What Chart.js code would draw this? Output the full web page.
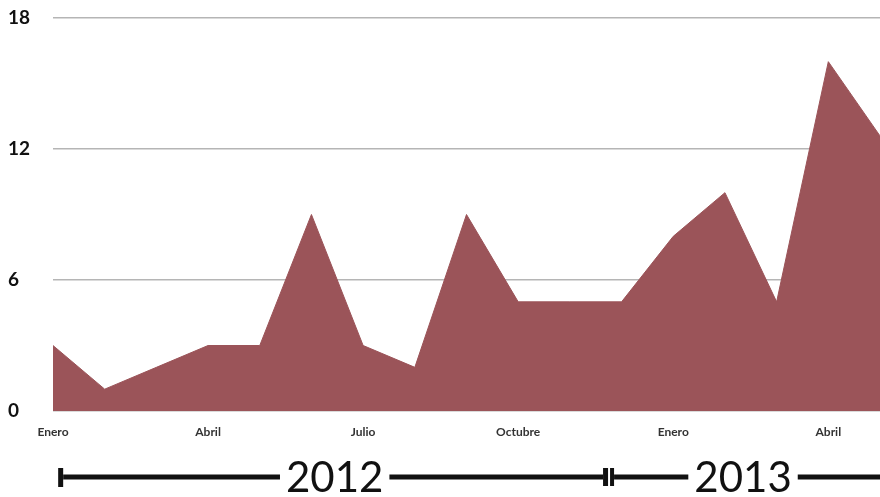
<!DOCTYPE html>
<html>
<head>
<meta charset="utf-8">
<script src="https://cdn.jsdelivr.net/npm/chart.js@4/dist/chart.umd.min.js"></script>
<style>
  html, body { margin: 0; padding: 0; background: #fff; overflow: hidden; }
  #wrap { width: 880px; height: 497px; }
</style>
</head>
<body>
<div id="wrap"><canvas id="areaChart"></canvas></div>
<script>
const months = ['Enero', 'Febrero', 'Marzo', 'Abril', 'Mayo', 'Junio', 'Julio', 'Agosto', 'Septiembre',
                'Octubre', 'Noviembre', 'Diciembre', 'Enero', 'Febrero', 'Marzo', 'Abril', 'Mayo'];
const counts = [3, 1, 2, 3, 3, 9, 3, 2, 9, 5, 5, 5, 8, 10, 5, 16, 12.6];
const yTicks = [0, 6, 12, 18];
const years = ['2012', '2013'];

// timeline below the axis, in month index units
const yearSpans = [[0.1, 10.7], [10.7, 16.2]];
const yearCenters = [5.45, 13.35];

const timelinePlugin = {
    id: 'timeline',
    afterDraw(chart) {
        const ctx = chart.ctx;
        const x = chart.scales.x;
        const y = 477;
        const px = v => x.left + (x.right - x.left) * v / (months.length - 1);
        ctx.save();
        ctx.fillStyle = '#111';
        ctx.font = '42px Lato';
        ctx.textAlign = 'center';
        ctx.textBaseline = 'alphabetic';
        const startX = px(yearSpans[0][0]);
        const breakX = px(yearSpans[0][1]);
        // start cap
        ctx.fillRect(startX, y - 9, 5, 19);
        // break marks
        ctx.fillRect(breakX - 3, y - 9, 5, 18);
        ctx.fillRect(breakX + 4, y - 9, 4, 18);
        years.forEach((yr, i) => {
            const cx = px(yearCenters[i]);
            const w = ctx.measureText(yr).width;
            const a = i === 0 ? startX + 5 : breakX + 8;
            const b = i === 0 ? breakX - 3 : chart.width;
            ctx.fillRect(a, y - 2.5, cx - w / 2 - 6 - a, 5);
            ctx.fillRect(cx + w / 2 + 6, y - 2.5, b - (cx + w / 2 + 6), 5);
            ctx.fillText(yr, cx, 492);
        });
        ctx.restore();
    }
};

new Chart(document.getElementById('areaChart'), {
    type: 'line',
    data: {
        labels: months,
        datasets: [{
            data: counts,
            fill: 'origin',
            backgroundColor: '#9b5459',
            borderColor: '#9b5459',
            borderWidth: 1,
            pointRadius: 0,
            tension: 0
        }]
    },
    options: {
        responsive: true,
        maintainAspectRatio: false,
        animation: false,
        layout: { padding: { top: 18, left: 8, right: 0, bottom: 0 } },
        scales: {
            x: {
                offset: false,
                grid: { display: false, drawTicks: false },
                border: { display: false },
                afterFit: s => { s.height = 86; s.paddingLeft = 0; s.paddingRight = 0; },
                ticks: {
                    autoSkip: false,
                    maxRotation: 0,
                    padding: 14,
                    color: '#333',
                    font: { family: 'Lato', size: 12, weight: 'bold' },
                    callback: (v, i) => i % 3 === 0 ? months[i] : ''
                }
            },
            y: {
                min: 0,
                max: 18,
                afterBuildTicks: s => { s.ticks = yTicks.map(v => ({ value: v })); },
                afterFit: s => { s.width = 45; },
                grid: { color: '#b5b5b5', lineWidth: 1.5, drawTicks: false },
                border: { display: false },
                ticks: {
                    crossAlign: 'far',
                    padding: 0,
                    color: '#111',
                    font: { family: 'Lato', size: 19, weight: 'bold' }
                }
            }
        },
        plugins: { legend: { display: false }, tooltip: { enabled: false } }
    },
    plugins: [timelinePlugin]
});
</script>
</body>
</html>
